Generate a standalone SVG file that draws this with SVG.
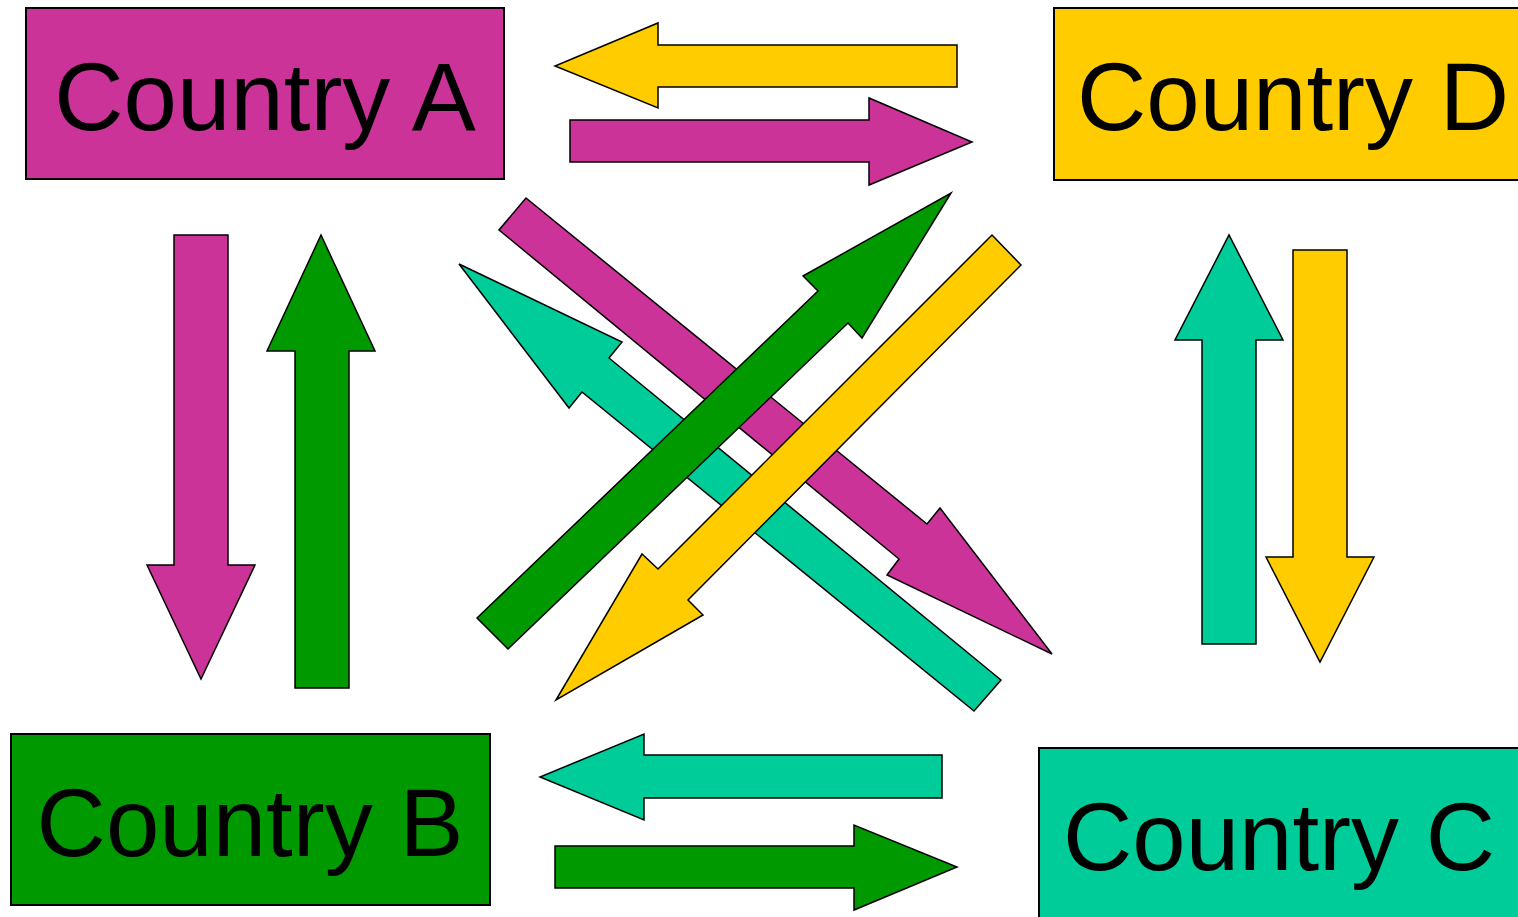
<svg xmlns="http://www.w3.org/2000/svg" width="1518" height="917" viewBox="0 0 1518 917">
<style>
.box{stroke:#000;stroke-width:2}
.arr{stroke:#000;stroke-width:1.5;stroke-linejoin:miter}
.m{fill:#CC3399}.y{fill:#FFCC00}.g{fill:#009900}.t{fill:#00CC99}
.lbl{font-family:"Liberation Sans",Arial,sans-serif;font-size:96px;fill:#000;text-anchor:middle}
</style>
<rect width="1518" height="917" fill="#fff"/>
<g id="connectors">
<polygon class="arr y" points="957,45 658,45 658,23 555,66 658,108 658,87 957,87"/>
<polygon class="arr m" points="570,120 869,120 869,98 972,142 869,185 869,162 570,162"/>
<polygon class="arr t" points="942,755 644,755 644,734 540,777 644,820 644,798 942,798"/>
<polygon class="arr g" points="555,846 854,846 854,825 957,867 854,910 854,888 555,888"/>
<polygon class="arr m" points="174,235 228,235 228,565 255,565 201,679 147,565 174,565"/>
<polygon class="arr g" points="295,688 295,351 267,351 321,235 375,351 349,351 349,688"/>
<polygon class="arr t" points="1202,644 1202,340 1175,340 1229,235 1283,340 1256,340 1256,644"/>
<polygon class="arr y" points="1293,250 1347,250 1347,557 1374,557 1320,662 1266,557 1293,557"/>
<polygon class="arr m" points="526,198 927,524 940,508 1052,654 887,575 899,559 499,230"/>
<polygon class="arr t" points="1001,680 609,358 622,342 459,264 569,408 582,392 974,711"/>
<polygon class="arr g" points="477,618 818,291 803,276 951,193 862,338 848,323 508,649"/>
<polygon class="arr y" points="1021,265 688,600 703,615 556,700 642,554 658,569 992,235"/>
</g>
<g id="countryA">
<rect class="box m" x="26" y="8" width="478" height="171"/>
<text class="lbl" x="265" y="130">Country A</text>
</g>
<g id="countryD">
<rect class="box y" x="1054" y="8" width="470" height="172"/>
<text class="lbl" x="1293" y="130">Country D</text>
</g>
<g id="countryB">
<rect class="box g" x="11" y="734" width="479" height="171"/>
<text class="lbl" x="250" y="856">Country B</text>
</g>
<g id="countryC">
<rect class="box t" x="1039" y="748" width="485" height="175"/>
<text class="lbl" x="1279" y="870">Country C</text>
</g>
</svg>
